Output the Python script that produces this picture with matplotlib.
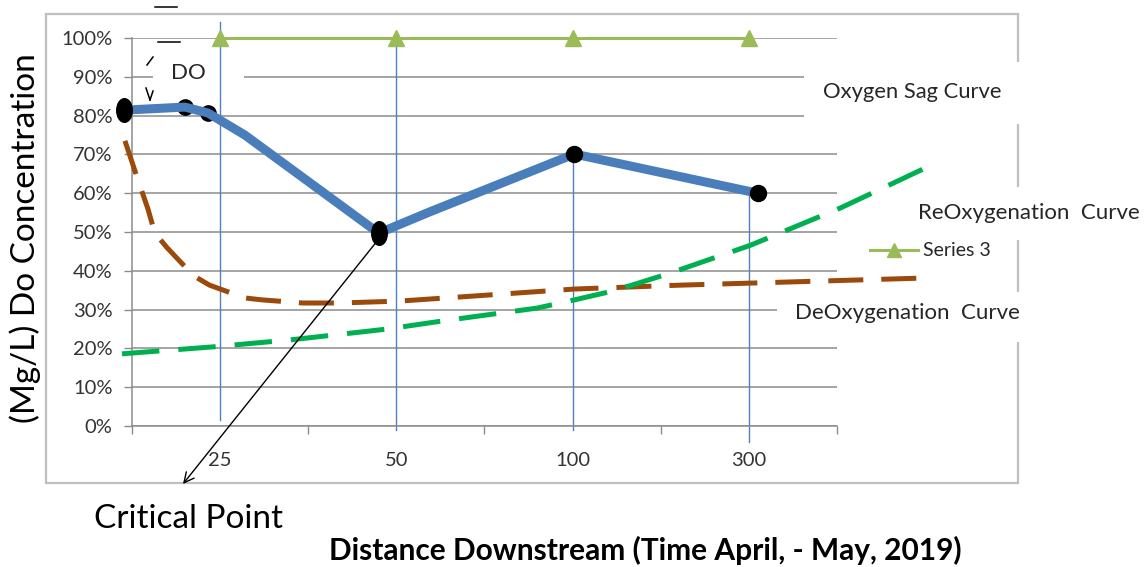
import matplotlib
matplotlib.use("Agg")
import matplotlib.pyplot as plt
from matplotlib.patches import Rectangle
from matplotlib.lines import Line2D
from matplotlib.markers import MarkerStyle
from matplotlib.transforms import Affine2D

# ---- data ----
categories = ["25", "50", "100", "300"]
y_ticks = [0, 10, 20, 30, 40, 50, 60, 70, 80, 90, 100]

# Oxygen sag curve (category units on x, percent on y)
sag_x = [-0.045, 0.30, 0.43, 0.64, 1.40, 1.69, 2.51, 3.55]
sag_y = [81.4, 82.2, 80.7, 75.0, 49.7, 55.2, 70.1, 60.0]

# sampled points (black markers)
oval_x = [-0.045, 1.40]
oval_y = [81.4, 49.7]
dot_x = [2.51, 3.55]
dot_y = [70.1, 60.0]
small_dot_x = [0.30, 0.43]
small_dot_y = [82.2, 80.7]

# de-oxygenation curve
deox_x = [-0.04, 0.034, 0.09, 0.13, 0.20, 0.35, 0.44, 0.64, 0.74, 0.97, 1.18,
          1.52, 1.94, 2.51, 3.11, 4.47]
deox_y = [73.5, 63.4, 56.0, 49.7, 45.9, 38.7, 36.3, 33.0, 32.5, 31.7, 31.7,
          32.2, 33.5, 35.3, 36.3, 38.1]

# re-oxygenation curve
reox_x = [-0.057, 0.46, 0.90, 1.45, 1.75, 2.30, 2.51, 2.73, 3.04, 3.51, 4.02, 4.52]
reox_y = [18.6, 20.4, 22.2, 25.0, 27.0, 30.4, 32.5, 34.8, 39.2, 46.6, 56.2, 66.9]

# Series 3
s3_x = [0.5, 1.5, 2.5, 3.5]
s3_y = [100, 100, 100, 100]

# drop lines at each station
drop_x = [0.5, 1.5, 2.5, 3.5]
drop_top = [104, 101, 70.1, 60.0]
drop_bottom = [1.5, -1, -1, -4]

W, H = 1148, 567
plt.rcParams["font.family"] = ["Lato", "DejaVu Sans"]

fig = plt.figure(figsize=(W / 100, H / 100), dpi=100)
fig.patch.set_facecolor("white")


def fx(px):
    return px / W


def fy(py):
    return 1 - py / H


ax = fig.add_axes([fx(132), fy(426), fx(837) - fx(132), fy(38) - fy(426)])
ax.set_xlim(0, 4)
ax.set_ylim(0, 100)
ax.set_facecolor("none")

grid_c = "#8C8C8C"
ax.set_yticks(y_ticks)
ax.set_yticklabels([f"{v}%" for v in y_ticks], fontsize=14.5, color="#333333")
ax.set_xticks(s3_x)
ax.set_xticklabels(categories, fontsize=14.5, color="#333333")
ax.set_xticks([0, 1, 2, 3, 4], minor=True)
ax.tick_params(axis="x", which="major", length=0, pad=19)
ax.tick_params(axis="x", which="minor", length=6, width=1, color=grid_c, direction="out")
ax.tick_params(axis="y", length=6, width=1, color=grid_c, pad=8)
ax.yaxis.grid(True, color=grid_c, lw=1.1)
ax.set_axisbelow(True)
for s in ["top", "right"]:
    ax.spines[s].set_visible(False)
for s in ["left", "bottom"]:
    ax.spines[s].set_color(grid_c)
    ax.spines[s].set_linewidth(1.1)

ft = fig.transFigure

# outer frame
ax.add_patch(Rectangle((fx(46), fy(483)), fx(1018) - fx(46), fy(14) - fy(483),
                       transform=ft, fill=False, ec="#BFBFBF", lw=1.6,
                       clip_on=False, zorder=0.6))

# white label boxes
boxes = [(153, 50, 244, 100), (804, 62, 1030, 124), (905, 187, 1148, 240),
         (777, 292, 1030, 342)]
for x0, y0, x1, y1 in boxes:
    ax.add_patch(Rectangle((fx(x0), fy(y1)), fx(x1) - fx(x0), fy(y0) - fy(y1),
                           transform=ft, fc="white", ec="none",
                           clip_on=False, zorder=1))

# drop lines
for x, t, b in zip(drop_x, drop_top, drop_bottom):
    ax.plot([x, x], [b, t], color="#4F81BD", lw=1.0, zorder=2, clip_on=False)

# curves
ax.plot(deox_x, deox_y, color="#9C4A0C", lw=3.6, dashes=(7, 3.6),
        zorder=3, clip_on=False)
ax.plot(reox_x, reox_y, color="#00B050", lw=3.6, dashes=(7.5, 3.8),
        zorder=3, clip_on=False)
ax.plot(s3_x, s3_y, color="#9BBB59", lw=2.2, marker="^", ms=11,
        zorder=4, clip_on=False)

ax.plot(small_dot_x, small_dot_y, "o", color="black", ms=11, zorder=4.5, clip_on=False)
ax.plot(sag_x, sag_y, color="#4A7EBB", lw=6.5, solid_joinstyle="round",
        solid_capstyle="round", zorder=5, clip_on=False)
ax.plot(dot_x, dot_y, "o", color="black", ms=11.5, zorder=6, clip_on=False)
oval = MarkerStyle("o", transform=Affine2D().scale(0.66, 1.0))
ax.plot(oval_x, oval_y, ls="none", marker=oval, color="black", ms=17,
        zorder=6, clip_on=False)

# critical point arrow
ax.annotate("", xy=(fx(183), fy(484)), xycoords=ft,
            xytext=(oval_x[1], oval_y[1] - 1.5), textcoords="data",
            arrowprops=dict(arrowstyle="->", color="black", lw=1.0,
                            mutation_scale=18, shrinkA=0, shrinkB=0),
            zorder=7)

# DO pointer fragments
frag = [((155, 177), (7, 7)), ((158, 180), (42, 42)), ((147, 153), (65, 57)),
        ((146, 150), (88, 100)), ((150, 153), (100, 91))]
for xs, ys in frag:
    fig.add_artist(Line2D([fx(v) for v in xs], [fy(v) for v in ys],
                          color="black", lw=1.1, zorder=8))

txt_c = "#262626"
fig.text(fx(188), fy(73), "DO", fontsize=16, color=txt_c, ha="center", va="center")
fig.text(fx(912), fy(92), "Oxygen Sag Curve", fontsize=15.8, color=txt_c,
         ha="center", va="center")
fig.text(fx(1029), fy(213), "ReOxygenation  Curve", fontsize=16, color=txt_c,
         ha="center", va="center")
fig.text(fx(907), fy(313), "DeOxygenation  Curve", fontsize=16, color=txt_c,
         ha="center", va="center")

# legend entry for Series 3
fig.add_artist(Line2D([fx(870), fx(918)], [fy(250), fy(250)], color="#9BBB59",
                      lw=2.2, zorder=8))
fig.add_artist(Line2D([fx(894)], [fy(250)], color="#9BBB59", marker="^", ms=10,
                      zorder=8))
fig.text(fx(923), fy(250), "Series 3", fontsize=14, color=txt_c,
         ha="left", va="center")

fig.text(fx(25), fy(238), "(Mg/L) Do Concentration", fontsize=24, color="black",
         rotation=90, ha="center", va="center")
fig.text(fx(189), fy(519), "Critical Point", fontsize=24, color="black",
         ha="center", va="center")
fig.text(fx(645), fy(550), "Distance Downstream (Time April, - May, 2019)",
         fontsize=21.5, fontweight="bold", color="black", ha="center", va="center")

fig.savefig("out.png", dpi=100)
